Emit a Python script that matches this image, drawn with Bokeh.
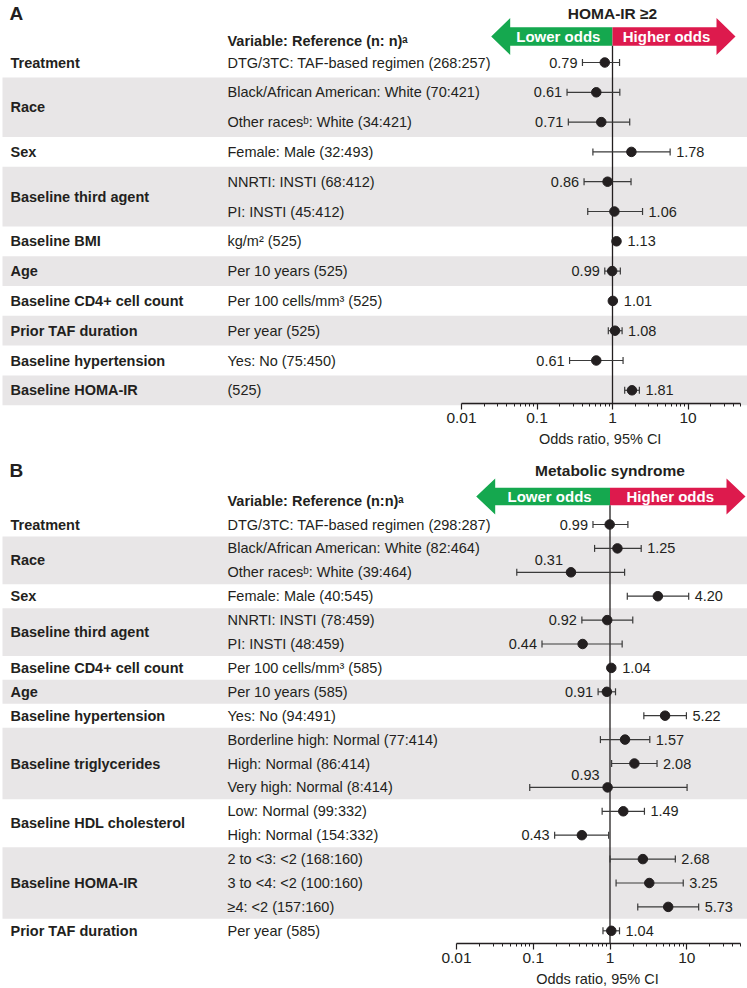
import numpy as np
from bokeh.plotting import figure
from bokeh.layouts import column
from bokeh.models import Range1d, FixedTicker, CustomJSTickFormatter
from bokeh.core.properties import value
from bokeh.embed import file_html
from bokeh.resources import INLINE

# ---------------------------------------------------------------- data
AXIS_TICKS = [0.01, 0.1, 1, 10]
AXIS_LABELS = ["0.01", "0.1", "1", "10"]
AXIS_MAX = 50
AXIS_TITLE = "Odds ratio, 95% CI"
LOWER_TEXT = "Lower odds"
HIGHER_TEXT = "Higher odds"

A_TITLE = "HOMA-IR \u22652"
A_HEADER = "Variable: Reference (n: n)\u1d43"
A_GROUPS = ["Treatment", "Race", "Sex", "Baseline third agent", "Baseline BMI", "Age",
            "Baseline CD4+ cell count", "Prior TAF duration", "Baseline hypertension",
            "Baseline HOMA-IR"]
A_SIZES = [1, 2, 1, 2, 1, 1, 1, 1, 1, 1]
A_REFS = ["DTG/3TC: TAF-based regimen (268:257)",
          "Black/African American: White (70:421)",
          "Other races\u1d47: White (34:421)",
          "Female: Male (32:493)",
          "NNRTI: INSTI (68:412)",
          "PI: INSTI (45:412)",
          "kg/m\u00b2 (525)",
          "Per 10 years (525)",
          "Per 100 cells/mm\u00b3 (525)",
          "Per year (525)",
          "Yes: No (75:450)",
          "(525)"]
A_OR = [0.79, 0.61, 0.71, 1.78, 0.86, 1.06, 1.13, 0.99, 1.01, 1.08, 0.61, 1.81]
A_LO = [0.40, 0.25, 0.26, 0.55, 0.42, 0.47, 1.08, 0.79, 0.97, 0.88, 0.27, 1.45]
A_HI = [1.24, 1.25, 1.69, 5.80, 1.76, 2.50, 1.18, 1.27, 1.05, 1.34, 1.38, 2.27]

B_TITLE = "Metabolic syndrome"
B_HEADER = "Variable: Reference (n:n)\u1d43"
B_GROUPS = ["Treatment", "Race", "Sex", "Baseline third agent", "Baseline CD4+ cell count",
            "Age", "Baseline hypertension", "Baseline triglycerides",
            "Baseline HDL cholesterol", "Baseline HOMA-IR", "Prior TAF duration"]
B_SIZES = [1, 2, 1, 2, 1, 1, 1, 3, 2, 3, 1]
B_REFS = ["DTG/3TC: TAF-based regimen (298:287)",
          "Black/African American: White (82:464)",
          "Other races\u1d47: White (39:464)",
          "Female: Male (40:545)",
          "NNRTI: INSTI (78:459)",
          "PI: INSTI (48:459)",
          "Per 100 cells/mm\u00b3 (585)",
          "Per 10 years (585)",
          "Yes: No (94:491)",
          "Borderline high: Normal (77:414)",
          "High: Normal (86:414)",
          "Very high: Normal (8:414)",
          "Low: Normal (99:332)",
          "High: Normal (154:332)",
          "2 to <3: <2 (168:160)",
          "3 to <4: <2 (100:160)",
          "\u22654: <2 (157:160)",
          "Per year (585)"]
B_OR = [0.99, 1.25, 0.31, 4.20, 0.92, 0.44, 1.04, 0.91, 5.22, 1.57, 2.08, 0.93,
        1.49, 0.43, 2.68, 3.25, 5.73, 1.04]
B_LO = [0.60, 0.63, 0.061, 1.68, 0.43, 0.13, 0.99, 0.70, 2.76, 0.75, 1.05, 0.09,
        0.79, 0.19, 1.00, 1.20, 2.30, 0.81]
B_HI = [1.71, 2.55, 1.55, 10.6, 1.98, 1.44, 1.10, 1.18, 9.9, 3.3, 4.1, 10.1,
        2.81, 0.96, 7.1, 9.0, 14.3, 1.33]

# ---------------------------------------------------------------- style
FONT = "Liberation Sans"
INK = "#231F20"
LINE = "#3A3A3A"
BAND = "#E8E6E7"
GREEN = "#15A84F"
RED = "#DD1A4D"
W = 747


def make_panel(letter, title, header, groups, sizes, refs, ors, los, his, *,
               top, height, one_px, ppd, row0, step_in, step_between, axis_y,
               arrow_y, tip_l, tip_r, head_hh, body_hh, head_len,
               header_y, title_y, axis_title_dy):

    def X(px):
        return 10 ** ((px - one_px) / ppd)

    p = figure(width=W, height=height, x_axis_type="log",
               x_range=Range1d(X(0), X(W)),
               y_range=Range1d(top + height, top),
               output_backend="svg", toolbar_location=None,
               y_axis_location=None, min_border=0, title=None)
    p.outline_line_color = None
    p.grid.visible = False
    p.background_fill_color = "white"

    # row positions
    ys, gid = [], []
    y = row0
    for gi, n in enumerate(sizes):
        for k in range(n):
            if ys:
                y += step_in if k > 0 else step_between
            ys.append(y)
            gid.append(gi)
    ys = np.array(ys)
    gid = np.array(gid)
    pad = step_between / 2.0
    centers = [ys[gid == g].mean() for g in range(len(groups))]

    # bands
    bt, bb = [], []
    for g in range(1, len(groups), 2):
        bt.append(ys[gid == g].min() - pad)
        bb.append(ys[gid == g].max() + pad)
    p.quad(left=X(2), right=X(W + 2), top=bt, bottom=bb,
           fill_color=BAND, line_color=None)

    tf = value(FONT)
    p.text(x=X(10), y=centers, text=groups, text_font=tf, text_font_size="14.5px",
           text_font_style="bold", text_baseline="middle", text_color=INK)
    p.text(x=X(227), y=ys, text=refs, text_font=tf, text_font_size="14.5px",
           text_baseline="middle", text_color=INK)
    p.text(x=[X(227)], y=[header_y], text=[header], text_font=tf, text_font_size="14.5px",
           text_font_style="bold", text_baseline="middle", text_color=INK)
    p.text(x=[X(9)], y=[title_y], text=[letter], text_font=tf, text_font_size="19px",
           text_font_style="bold", text_baseline="middle", text_color=INK)
    p.text(x=[1], y=[title_y], text=[title], text_font=tf, text_font_size="15.5px",
           text_font_style="bold", text_baseline="middle", text_align="center",
           text_color=INK)

    # arrow
    cy = arrow_y
    bl, br = tip_l + head_len, tip_r - head_len
    gx = [X(tip_l), X(bl), X(bl), 1, 1, X(bl), X(bl)]
    rx = [X(tip_r), X(br), X(br), 1, 1, X(br), X(br)]
    ay = [cy, cy - head_hh, cy - body_hh, cy - body_hh, cy + body_hh, cy + body_hh, cy + head_hh]
    p.patch(gx, ay, fill_color=GREEN, line_color=None)
    p.patch(rx, ay, fill_color=RED, line_color=None)
    p.text(x=[X((bl + one_px) / 2 - 3), X((br + one_px) / 2 + 2)], y=[cy, cy],
           text=[LOWER_TEXT, HIGHER_TEXT], text_font=tf, text_font_size="15px",
           text_font_style="bold", text_baseline="middle", text_align="center",
           text_color="white")

    # reference line
    p.segment(x0=[1], y0=[cy + body_hh], x1=[1], y1=[axis_y], line_color=INK, line_width=1.3)

    # CIs and points
    p.segment(x0=los, y0=ys, x1=his, y1=ys, line_color=LINE, line_width=1.2)
    p.scatter(x=los + his, y=list(ys) + list(ys), marker="dash", angle=np.pi / 2,
              size=7, line_color=LINE, line_width=1.2)
    p.scatter(x=ors, y=ys, size=9.5, fill_color=INK, line_color=INK)

    # value labels
    r = 10 ** (5.0 / ppd)
    lx, ly, lt, rx_, ry, rt, ux, uy, ut = [], [], [], [], [], [], [], [], []
    for o, lo, hi, yy in zip(ors, los, his, ys):
        s = f"{o:.2f}"
        if lo < 0.1:
            ux.append(o); uy.append(yy); ut.append(s)
        elif o >= 1:
            rx_.append(max(hi, o * r)); ry.append(yy); rt.append(s)
        else:
            lx.append(min(lo, o / r)); ly.append(yy); lt.append(s)
    common = dict(text_font=tf, text_font_size="14.5px", text_baseline="middle",
                  text_color=INK)
    p.text(x=rx_, y=ry, text=rt, x_offset=6, text_align="left", **common)
    p.text(x=lx, y=ly, text=lt, x_offset=-5, text_align="right", **common)
    p.text(x=ux, y=uy, text=ut, x_offset=-8, y_offset=-12, text_align="right", **common)

    # axis
    ax = p.xaxis[0]
    ax.fixed_location = axis_y
    ax.bounds = (AXIS_TICKS[0], AXIS_MAX)
    minor = [m * 10.0 ** k for k in range(-2, 2) for m in range(2, 10)
             if m * 10.0 ** k <= AXIS_MAX]
    ax.ticker = FixedTicker(ticks=AXIS_TICKS, minor_ticks=minor)
    ax.formatter = CustomJSTickFormatter(
        args=dict(tv=AXIS_TICKS, tl=AXIS_LABELS),
        code="""
        for (let i = 0; i < tv.length; i++) {
            if (Math.abs(tv[i] - tick) <= 1e-9 * Math.abs(tv[i])) return tl[i];
        }
        return '';
        """)
    ax.axis_line_color = INK
    ax.axis_line_width = 1.3
    ax.major_tick_line_color = INK
    ax.minor_tick_line_color = INK
    ax.major_tick_line_width = 1.2
    ax.minor_tick_line_width = 1.0
    ax.major_tick_in = 0
    ax.major_tick_out = 6
    ax.minor_tick_in = 0
    ax.minor_tick_out = 3
    ax.major_label_text_font = FONT
    ax.major_label_text_font_size = "15.5px"
    ax.major_label_text_color = INK
    ax.major_label_standoff = 3
    mid = np.sqrt(AXIS_TICKS[0] * AXIS_MAX) * 10 ** (-1.0 / ppd)
    p.text(x=[mid], y=[axis_y + axis_title_dy], text=[AXIS_TITLE], text_font=tf,
           text_font_size="14.5px", text_baseline="middle", text_align="center",
           text_color=INK)
    return p


pa = make_panel("A", A_TITLE, A_HEADER, A_GROUPS, A_SIZES, A_REFS,
                A_OR, A_LO, A_HI,
                top=0, height=452, one_px=612, ppd=75.5, row0=62, step_in=29.8,
                step_between=29.8, axis_y=403, arrow_y=36, tip_l=490.7, tip_r=735,
                head_hh=18.5, body_hh=9.2, head_len=19, header_y=40, title_y=13,
                axis_title_dy=35)
pb = make_panel("B", B_TITLE, B_HEADER, B_GROUPS, B_SIZES, B_REFS,
                B_OR, B_LO, B_HI,
                top=452, height=536, one_px=609.5, ppd=76.75, row0=524, step_in=23.9,
                step_between=23.9, axis_y=943, arrow_y=496, tip_l=475.7, tip_r=745,
                head_hh=18, body_hh=8.7, head_len=19, header_y=500, title_y=470,
                axis_title_dy=35)

layout = column(pa, pb, spacing=0)
with open("out.html", "w") as f:
    f.write(file_html(layout, INLINE))
